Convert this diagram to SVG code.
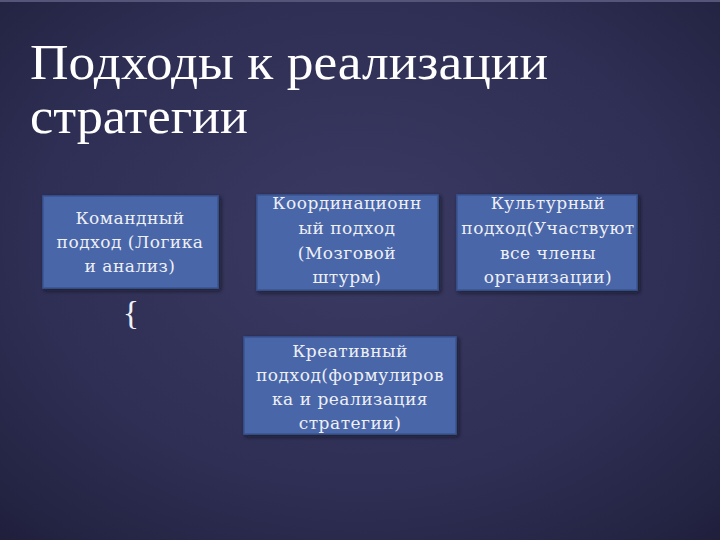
<svg xmlns="http://www.w3.org/2000/svg" width="720" height="540" viewBox="0 0 720 540">
<defs>
<radialGradient id="bg" cx="0.5" cy="0.45" r="0.75">
<stop offset="0" stop-color="#3a3a63"/>
<stop offset="0.6" stop-color="#2f2f55"/>
<stop offset="1" stop-color="#1f1f3c"/>
</radialGradient>
<filter id="sh" x="-10%" y="-10%" width="130%" height="130%">
<feDropShadow dx="2" dy="2" stdDeviation="2" flood-color="#10101f" flood-opacity="0.7"/>
</filter>
</defs>
<style>
.box{fill:#4866a9;stroke:#3b5594;stroke-width:1.5;filter:url(#sh)}
.t{font-family:"DejaVu Serif","Liberation Serif",serif;font-size:17px;letter-spacing:0.5px;fill:#eef0f6;text-anchor:middle}
.title{font-family:"Liberation Serif",serif;font-size:50px;fill:#ffffff}
</style>
<rect width="720" height="540" fill="url(#bg)"/>
<line x1="0" y1="1" x2="720" y2="1" stroke="#55557a" stroke-width="2"/>
<g id="title">
<text class="title" x="30" y="79" textLength="518" lengthAdjust="spacingAndGlyphs">Подходы к реализации</text>
<text class="title" x="30" y="133" textLength="218" lengthAdjust="spacingAndGlyphs">стратегии</text>
</g>
<g id="node-command">
<rect class="box" x="43" y="196" width="175" height="92"/>
<text class="t" x="130" y="224">Командный</text>
<text class="t" x="130" y="248">подход (Логика</text>
<text class="t" x="130" y="272">и анализ)</text>
</g>
<g id="node-coord">
<rect class="box" x="257" y="195" width="181" height="95"/>
<text class="t" x="347" y="209">Координационн</text>
<text class="t" x="347" y="234">ый подход</text>
<text class="t" x="347" y="259">(Мозговой</text>
<text class="t" x="347" y="283">штурм)</text>
</g>
<g id="node-culture">
<rect class="box" x="457" y="195" width="180" height="95"/>
<text class="t" x="548" y="209">Культурный</text>
<text class="t" x="548" y="234">подход(Участвуют</text>
<text class="t" x="548" y="259">все члены</text>
<text class="t" x="548" y="283">организации)</text>
</g>
<g id="node-creative">
<rect class="box" x="244" y="337" width="212" height="97"/>
<text class="t" x="350" y="357">Креативный</text>
<text class="t" x="350" y="381">подход(формулиров</text>
<text class="t" x="350" y="405">ка и реализация</text>
<text class="t" x="350" y="429">стратегии)</text>
</g>
<g id="connectors">
<text x="131" y="324" font-family="Liberation Serif, serif" font-size="34" fill="#eef0f6" text-anchor="middle">{</text>
</g>
</svg>
